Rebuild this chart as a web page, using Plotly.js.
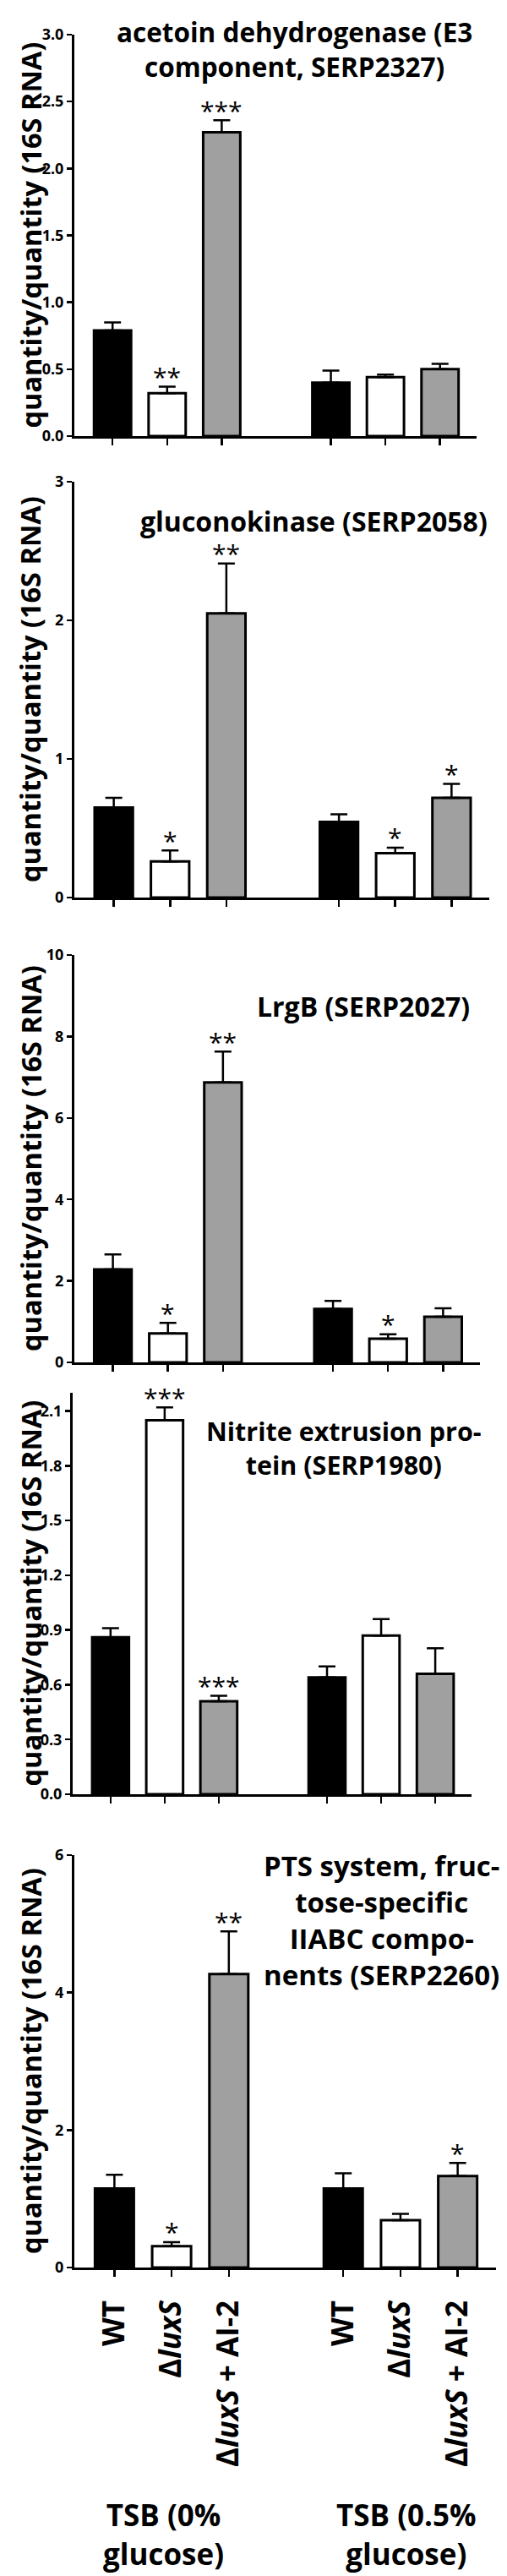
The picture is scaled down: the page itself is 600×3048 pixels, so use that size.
<!DOCTYPE html>
<html>
<head>
<meta charset="utf-8">
<script src="https://cdn.plot.ly/plotly-3.0.1.min.js"></script>
<style>
  body { margin: 0; background: #fff; }
</style>
</head>
<body>
<div id="chart" style="width:600px;height:3048px"></div>
<script>
// strains, repeated for the two media
var strains = ['WT', 'Δ<i>luxS</i>', 'Δ<i>luxS</i> + AI-2', 'WT', 'Δ<i>luxS</i>', 'Δ<i>luxS</i> + AI-2'];
var slots = [0, 1, 2, 4, 5, 6];
var mediumLines = [['TSB (0%', 'glucose)'], ['TSB (0.5%', 'glucose)']];

// acetoin dehydrogenase (SERP2327)
var acetoinMean = [0.79, 0.32, 2.27, 0.40, 0.44, 0.50];
var acetoinSem = [0.06, 0.05, 0.09, 0.09, 0.02, 0.04];
var acetoinSig = ['', '**', '***', '', '', ''];

// gluconokinase (SERP2058)
var gluconoMean = [0.65, 0.26, 2.05, 0.545, 0.32, 0.72];
var gluconoSem = [0.07, 0.08, 0.36, 0.055, 0.04, 0.10];
var gluconoSig = ['', '*', '**', '', '*', '*'];

// LrgB (SERP2027)
var lrgbMean = [2.28, 0.71, 6.87, 1.31, 0.58, 1.12];
var lrgbSem = [0.37, 0.26, 0.76, 0.20, 0.11, 0.21];
var lrgbSig = ['', '*', '**', '', '*', ''];

// nitrite extrusion protein (SERP1980)
var nitriteMean = [0.86, 2.05, 0.51, 0.64, 0.87, 0.66];
var nitriteSem = [0.05, 0.07, 0.03, 0.06, 0.09, 0.14];
var nitriteSig = ['', '***', '***', '', '', ''];

// PTS system fructose-specific (SERP2260)
var ptsMean = [1.15, 0.31, 4.27, 1.15, 0.69, 1.33];
var ptsSem = [0.20, 0.06, 0.62, 0.22, 0.09, 0.19];
var ptsSig = ['', '*', '**', '', '', '*'];

var W = 600, H = 3048;
var FONT = 'Open Sans';
var barColors = ['#000000', '#ffffff', '#a0a0a0', '#000000', '#ffffff', '#a0a0a0'];

// box = [left, right, top, bottom] of each plot area in pixels,
// titleBase = baselines of first and last title line
var panels = [
    { mean: acetoinMean, sem: acetoinSem, sig: acetoinSig, ymax: 3, dtick: 0.5, fmt: '.1f',
      box: [88, 564, 41, 516], title: ['acetoin dehydrogenase (E3', 'component, SERP2327)'],
      titleX: 348, titleBase: [53, 88], titleSize: 31.5 },
    { mean: gluconoMean, sem: gluconoSem, sig: gluconoSig, ymax: 3, dtick: 1, fmt: 'd',
      box: [88, 579, 570, 1062], title: ['gluconokinase (SERP2058)'],
      titleX: 371, titleBase: [629, 629], titleSize: 32 },
    { mean: lrgbMean, sem: lrgbSem, sig: lrgbSig, ymax: 10, dtick: 2, fmt: 'd',
      box: [88, 568, 1130, 1612], title: ['LrgB (SERP2027)'],
      titleX: 430, titleBase: [1203, 1203], titleSize: 32 },
    { mean: nitriteMean, sem: nitriteSem, sig: nitriteSig, ymax: 2.2, dtick: 0.3, fmt: '.1f',
      box: [86, 558, 1648, 2123], title: ['Nitrite extrusion pro-', 'tein (SERP1980)'],
      titleX: 407, titleBase: [1702, 1747], titleSize: 30.5 },
    { mean: ptsMean, sem: ptsSem, sig: ptsSig, ymax: 6, dtick: 2, fmt: 'd',
      box: [88, 587, 2195, 2683], title: ['PTS system, fruc-', 'tose-specific', 'IIABC compo-', 'nents (SERP2260)'],
      titleX: 451, titleBase: [2217, 2352], titleSize: 33 }
];

function px(x) { return x / W; }
function py(y) { return 1 - y / H; }

var data = [];
var annotations = [];
var layout = {
    width: W, height: H,
    margin: { l: 0, r: 0, t: 0, b: 0 },
    paper_bgcolor: '#fff', plot_bgcolor: '#fff',
    showlegend: false,
    font: { family: FONT, color: '#000' }
};

// block of centred lines, first baseline at top, last baseline at bottom
function textBlock(lines, x, top, bottom, size) {
    annotations.push({
        text: lines.join('<br>'), xref: 'paper', yref: 'paper',
        x: px(x), y: py((top + bottom) / 2 - 0.39 * size),
        xanchor: 'center', yanchor: 'middle', align: 'center', showarrow: false,
        font: { family: FONT, size: size, weight: 700, color: '#000' }
    });
}

var yTitle = 'quantity/quantity (16S RNA)';

panels.forEach(function (p, i) {
    var s = i === 0 ? '' : String(i + 1);
    var last = i === panels.length - 1;
    var b = p.box;

    data.push({
        type: 'bar', x: slots, y: p.mean, width: 0.68,
        xaxis: 'x' + s, yaxis: 'y' + s, hoverinfo: 'skip',
        marker: { color: barColors, line: { color: '#000', width: 3 } },
        error_y: { type: 'data', symmetric: false, array: p.sem,
                   arrayminus: p.sem.map(function () { return 0; }),
                   color: '#000', thickness: 2.5, width: 10 }
    });

    layout['xaxis' + s] = {
        domain: [px(b[0]), px(b[1])], anchor: 'y' + s, range: [-0.7, 6.67],
        tickvals: slots, ticktext: strains, showticklabels: last, tickangle: -90,
        ticklabelstandoff: 14,
        tickfont: { family: FONT, size: 35, weight: 700, color: '#000' },
        ticks: 'outside', ticklen: 8, tickwidth: 2.5, tickcolor: '#000',
        showline: true, linewidth: 3, linecolor: '#000',
        showgrid: false, zeroline: false, fixedrange: true
    };
    layout['yaxis' + s] = {
        domain: [py(b[3]), py(b[2])], anchor: 'x' + s, range: [0, p.ymax],
        tick0: 0, dtick: p.dtick, tickformat: p.fmt,
        tickfont: { family: FONT, size: 18, weight: 700, color: '#000' },
        ticks: 'outside', ticklen: 6, tickwidth: 2.5, tickcolor: '#000',
        showline: true, linewidth: 3, linecolor: '#000',
        showgrid: false, zeroline: false, fixedrange: true
    };

    // y title, same text on every panel
    annotations.push({
        text: yTitle, textangle: -90,
        xref: 'paper', yref: 'paper', x: px(36), y: py((b[2] + b[3]) / 2),
        xanchor: 'center', yanchor: 'middle', showarrow: false,
        font: { family: FONT, size: 32.5, weight: 700, color: '#000' }
    });

    textBlock(p.title, p.titleX, p.titleBase[0], p.titleBase[1], p.titleSize);

    // significance stars over the error bars
    p.sig.forEach(function (st, k) {
        if (!st) return;
        annotations.push({
            text: st, xref: 'x' + s, yref: 'y' + s, x: slots[k], y: p.mean[k] + p.sem[k],
            xanchor: 'center', yanchor: 'middle', yshift: 12, showarrow: false,
            font: { family: FONT, size: 30, color: '#000' }
        });
    });
});

// growth medium under the bottom panel
textBlock(mediumLines[0], 194, 2988, 3037, 35);
textBlock(mediumLines[1], 481, 2988, 3037, 35);

layout.annotations = annotations;
Plotly.newPlot('chart', data, layout, { staticPlot: true, displayModeBar: false });
</script>
</body>
</html>
